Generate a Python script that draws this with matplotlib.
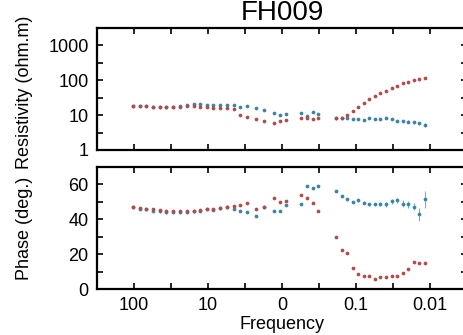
import matplotlib
matplotlib.use("Agg")
import matplotlib.pyplot as plt

plt.rcParams['font.family'] = ['Liberation Sans', 'DejaVu Sans']

title = "FH009"
freq = [103.2, 83.7, 67.9, 55.2, 44.8, 36.4, 29.5, 24.0, 19.5, 15.7, 12.8, 10.4,
        8.43, 6.84, 5.56, 4.51, 3.66, 2.97,
        2.24, 1.75,
        1.28, 1.06, 0.88,
        0.553, 0.459, 0.381, 0.326,
        0.186, 0.157, 0.132, 0.111, 0.0933, 0.0784, 0.0660, 0.0555, 0.0467,
        0.0393, 0.0330, 0.0278, 0.0233, 0.0196, 0.0165, 0.0139, 0.0117]

rho_xy = [18, 18, 18, 17.5, 17.5, 17.5, 17.5, 17.5, 18, 18.5, 17.5, 17,
          16.5, 16.5, 16, 15, 10, 9,
          7.6, 6.6,
          5.8, 6.6, 7.1,
          8.2, 8.2, 7.6, 8.2,
          8.2, 8.2, 9.8, 12.9, 16.9, 22.7, 28.5, 35.8, 43,
          50, 60, 70, 82, 92, 99, 108, 118]
rho_yx = [18, 18, 18, 17.5, 17.5, 17.5, 17.5, 18, 19, 20.5, 21, 20,
          19.5, 20, 20, 19.5, 17, 18,
          16, 14,
          11.5, 10, 10.7,
          11.5, 9.4, 12.3, 10.7,
          8.2, 8.2, 8.2, 7.9, 7.9, 7.3, 8.2, 7.9, 7.9,
          8.2, 7.9, 7.0, 6.8, 6.5, 6.3, 5.8, 5.2]
# relative errors (fraction of value)
rho_xy_rel = [0.03] * 44
rho_yx_rel = [0.03] * 27 + [0.03, 0.03, 0.03, 0.04, 0.04, 0.04, 0.05, 0.05, 0.05,
                            0.06, 0.06, 0.07, 0.08, 0.09, 0.10, 0.12, 0.14]

phase_xy = [47, 46.5, 46, 46, 45.5, 45, 45, 45, 45, 45, 45.5, 46,
            46, 46.5, 47, 47.5, 48, 49.5,
            45.8, 47,
            52, 50, 50.4,
            53.8, 52.2, 49.6, 44.9,
            29.8, 22.3, 20.6, 12, 8.5, 7.5, 7.5, 5.7, 6.6,
            6.6, 7.5, 7.5, 8.9, 11.3, 15.5, 14.7, 14.7]
phase_yx = [47, 46, 46, 45, 44.5, 44, 44, 44, 44, 44.5, 45, 46,
            45.5, 46.5, 47, 46, 45, 44,
            42, 47,
            44.7, 44.7, 48,
            48.7, 58.9, 58.1, 59,
            56.2, 53.2, 51.5, 50, 51, 49.6, 48.5, 48.5, 48.8,
            48.5, 50.4, 51, 48.9, 48.5, 47.2, 42.8, 51.5]
phase_xy_err = [0.5] * 44
phase_yx_err = [0.5, 0.5, 0.5, 0.6, 0.8, 1.0, 1.0, 1.0, 1.0, 0.8, 0.6, 0.6,
                0.6, 0.8, 0.8, 0.6, 0.5, 0.5,
                0.5, 0.5,
                0.5, 0.5, 0.5,
                0.5, 0.5, 0.5, 0.5,
                0.5, 0.5, 0.5, 0.7, 0.8, 1.0, 1.0, 1.0, 1.2,
                1.3, 1.5, 1.5, 2.0, 2.0, 2.0, 3.5, 5.0]

xtick_vals = [100, 31.62, 10, 3.162, 1, 0.3162, 0.1, 0.03162, 0.01]
xtick_labels = ['100', '', '10', '', '0', '', '0.1', '', '0.01']
rho_tick_vals = [1, 3.162, 10, 31.62, 100, 316.2, 1000]
rho_tick_labels = ['1', '', '10', '', '100', '', '1000']
ph_tick_vals = [0, 10, 20, 30, 40, 50, 60]
ph_tick_labels = ['0', '', '20', '', '40', '', '60']

red_line = '#e87878'
red_mark = '#b04c4c'
blue_line = '#58bce8'
blue_mark = '#3c84a4'

W, H = 464, 335
fig = plt.figure(figsize=(W / 100, H / 100), dpi=100)
ax1 = fig.add_axes([97 / W, (H - 150) / H, 370 / W, 122 / H])
ax2 = fig.add_axes([97 / W, (H - 289) / H, 370 / W, 122 / H])

def style(ax):
    ax.set_xscale('log')
    ax.set_xlim(10 ** 2.5, 10 ** -2.5)
    ax.minorticks_off()
    ax.set_xticks(xtick_vals)
    ax.tick_params(which='both', direction='in', top=True, right=True,
                   length=4, width=1.2, labelsize=13, pad=6)
    for s in ax.spines.values():
        s.set_linewidth(1.6)

eb = dict(fmt='o', ms=2.7, elinewidth=0.8, capsize=2.0, capthick=0.9, mew=0)

# resistivity
rxy_err = [v * e for v, e in zip(rho_xy, rho_xy_rel)]
ryx_err = [v * e for v, e in zip(rho_yx, rho_yx_rel)]
ax1.errorbar(freq, rho_yx, yerr=ryx_err, color=blue_mark, ecolor=blue_line, **eb)
ax1.errorbar(freq, rho_xy, yerr=rxy_err, color=red_mark, ecolor=red_line, **eb)
style(ax1)
ax1.set_yscale('log')
ax1.set_ylim(1, 10 ** 3.5)
ax1.minorticks_off()
ax1.set_yticks(rho_tick_vals)
ax1.set_yticklabels(rho_tick_labels)
ax1.set_xticklabels([])
ax1.set_ylabel('Resistivity (ohm.m)', fontsize=13)
ax1.yaxis.set_label_coords(-0.172, 0.47)
ax1.set_title(title, fontsize=20, pad=6)

# phase
ax2.errorbar(freq, phase_yx, yerr=phase_yx_err, color=blue_mark, ecolor=blue_line, **eb)
ax2.errorbar(freq, phase_xy, yerr=phase_xy_err, color=red_mark, ecolor=red_line, **eb)
style(ax2)
ax2.set_ylim(0, 70)
ax2.set_yticks(ph_tick_vals)
ax2.set_yticklabels(ph_tick_labels)
ax2.set_xticklabels(xtick_labels)
ax2.set_ylabel('Phase (deg.)', fontsize=13)
ax2.yaxis.set_label_coords(-0.172, 0.5)
ax2.set_xlabel('Frequency', fontsize=13, labelpad=1)

fig.savefig('out.png', dpi=100)
